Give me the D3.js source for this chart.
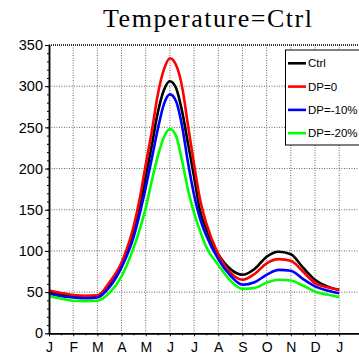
<!DOCTYPE html>
<html>
<head>
<meta charset="utf-8">
<script src="https://cdn.jsdelivr.net/npm/d3@7"></script>
<style>
  body { margin: 0; background: #fff; }
  svg { display: block; }
</style>
</head>
<body>
<svg id="chart" width="359" height="354"></svg>
<script>
// time in months from 1 Jan (0) to next Jan (12)
const months = [0, 0.5, 1, 1.5, 2, 2.5, 3, 3.5, 3.75, 4, 4.25, 4.5, 4.75, 5, 5.25, 5.5, 5.75, 6, 6.25, 6.5, 7, 7.5, 8, 8.5, 9, 9.5, 10, 10.5, 11, 11.5, 12];

const ctrl   = [50, 47, 44.5, 44, 45.5, 59, 83, 123, 152, 190, 228, 268, 295, 306, 298, 270, 230, 190, 148, 127, 96, 78, 71, 78, 93, 99, 96, 80, 65, 57, 52.5];
const dp0    = [52, 49, 46.5, 45.5, 46, 62, 86, 130, 163, 205, 245, 290, 320, 334, 326, 300, 252, 205, 162, 134, 96, 74, 65, 72, 85, 90, 88, 75, 61, 56, 53];
const dp10   = [48, 45, 43.5, 42.5, 43.5, 56, 80, 117, 145, 177, 212, 248, 278, 290, 282, 252, 207, 168, 139, 119, 90, 70, 59, 62, 71, 77, 76, 66, 57, 52, 48.5];
const dp20   = [45, 42, 39.5, 39, 39.5, 49, 69, 104, 126, 152, 185, 215, 238, 248, 240, 210, 174, 146, 124, 105, 83, 64, 54, 55, 61.5, 65, 64, 58, 50.5, 47, 44];

const seriesNames  = ["Ctrl", "DP=0", "DP=-10%", "DP=-20%"];
const seriesColors = ["#000000", "#ff0000", "#0000ff", "#00ff00"];
const seriesValues = [ctrl, dp0, dp10, dp20];

const monthLabels = ["J", "F", "M", "A", "M", "J", "J", "A", "S", "O", "N", "D", "J"];
const yTicks = [0, 50, 100, 150, 200, 250, 300, 350];

const svg = d3.select("#chart");

const x = d3.scaleLinear().domain([0, 12.82]).range([49, 359]);
const y = d3.scaleLinear().domain([0, 350]).range([333.3, 45]);

// title
svg.append("text")
  .attr("x", 207.5)
  .attr("y", 27)
  .attr("text-anchor", "middle")
  .attr("font-family", "Liberation Serif, Times New Roman, serif")
  .attr("font-size", 26)
  .attr("textLength", 209)
  .attr("lengthAdjust", "spacing")
  .text("Temperature=Ctrl");

// grid
const grid = svg.append("g")
  .attr("stroke", "#666")
  .attr("stroke-width", 1)
  .attr("stroke-dasharray", "1,1.5");

grid.selectAll("line.v")
  .data(d3.range(1, 13)).enter()
  .append("line")
  .attr("x1", d => x(d)).attr("x2", d => x(d))
  .attr("y1", y(350)).attr("y2", y(0));

grid.selectAll("line.h")
  .data(yTicks.slice(1, -1)).enter()
  .append("line")
  .attr("x1", x(0)).attr("x2", x(12.82))
  .attr("y1", d => y(d)).attr("y2", d => y(d));

// top frame
svg.append("line")
  .attr("x1", x(0)).attr("x2", x(12.82))
  .attr("y1", y(350)).attr("y2", y(350))
  .attr("stroke", "#333")
  .attr("stroke-width", 2)
  .attr("stroke-dasharray", "1,1");

// curves
const line = d3.line()
  .x((d, i) => x(months[i]))
  .y(d => y(d))
  .curve(d3.curveMonotoneX);

seriesValues.forEach((vals, k) => {
  svg.append("path")
    .datum(vals)
    .attr("fill", "none")
    .attr("stroke", seriesColors[k])
    .attr("stroke-width", 2.6)
    .attr("stroke-linejoin", "round")
    .attr("d", line);
});

// y axis
const yAxisG = svg.append("g").attr("transform", "translate(" + x(0) + ",0)");
yAxisG.append("g")
  .call(d3.axisLeft(y).tickValues(d3.range(0, 351, 10)).tickSize(2).tickFormat("").tickSizeOuter(0));
yAxisG.append("g")
  .call(d3.axisLeft(y).tickValues(yTicks).tickSize(4).tickPadding(2).tickSizeOuter(0))
  .call(g => g.selectAll("text")
    .attr("font-family", "Liberation Sans, Arial, sans-serif")
    .attr("font-size", 14.5)
    .attr("fill", "#000"));
yAxisG.selectAll(".domain").attr("stroke-width", 1.5);

// x axis
const xAxisG = svg.append("g").attr("transform", "translate(0," + y(0) + ")");
xAxisG.append("g")
  .call(d3.axisBottom(x).tickValues(d3.range(0.5, 12.5, 1)).tickSize(2).tickFormat("").tickSizeOuter(0));
xAxisG.append("g")
  .call(d3.axisBottom(x).tickValues(d3.range(0, 13)).tickSize(3).tickPadding(5.5)
    .tickFormat(d => monthLabels[d]).tickSizeOuter(0))
  .call(g => g.selectAll("text")
    .attr("font-family", "Liberation Sans, Arial, sans-serif")
    .attr("font-size", 14)
    .attr("fill", "#000"));
xAxisG.selectAll(".domain").attr("stroke-width", 1.5);

// legend
const legend = svg.append("g");
legend.append("rect")
  .attr("x", 285.5).attr("y", 50)
  .attr("width", 80).attr("height", 95)
  .attr("fill", "#fff")
  .attr("stroke", "#000")
  .attr("stroke-width", 1);

seriesNames.forEach((name, k) => {
  const ly = 63.3 + k * 23.3;
  legend.append("line")
    .attr("x1", 288).attr("x2", 306)
    .attr("y1", ly).attr("y2", ly)
    .attr("stroke", seriesColors[k])
    .attr("stroke-width", 2.6);
  legend.append("text")
    .attr("x", 308)
    .attr("y", ly + 4)
    .attr("font-family", "Liberation Sans, Arial, sans-serif")
    .attr("font-size", 11.5)
    .text(name);
});
</script>
</body>
</html>
